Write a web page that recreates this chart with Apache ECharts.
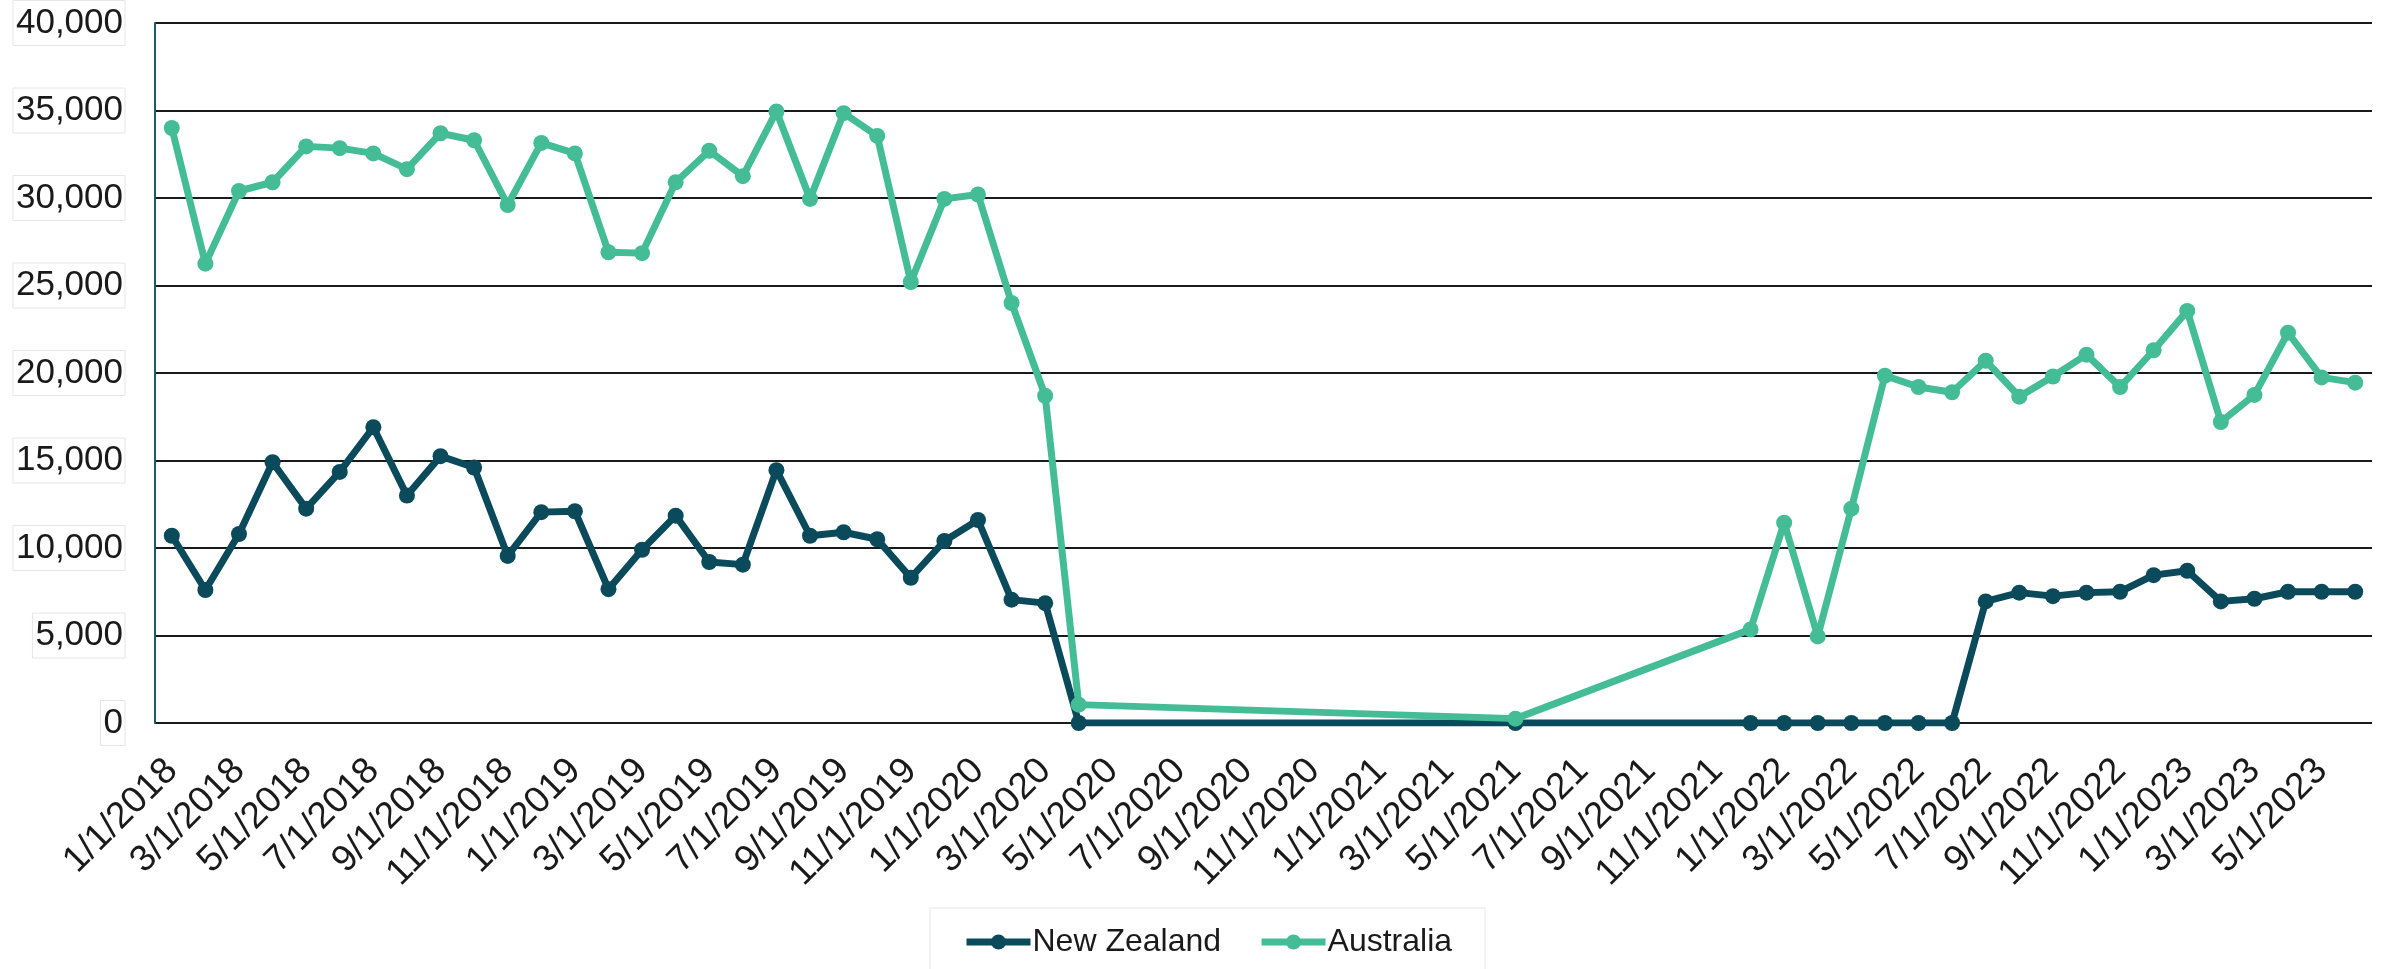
<!DOCTYPE html>
<html>
<head>
<meta charset="utf-8">
<script src="https://cdn.jsdelivr.net/npm/echarts@6/dist/echarts.min.js"></script>
<style>
  html, body { margin: 0; padding: 0; background: #ffffff; }
  #chart { width: 2382px; height: 969px; }
</style>
</head>
<body>
<div id="chart"></div>
<script>
// Monthly categories (1/1/2018 .. 6/1/2023)
const categories = [
  '1/1/2018','2/1/2018','3/1/2018','4/1/2018','5/1/2018','6/1/2018','7/1/2018','8/1/2018','9/1/2018','10/1/2018','11/1/2018','12/1/2018',
  '1/1/2019','2/1/2019','3/1/2019','4/1/2019','5/1/2019','6/1/2019','7/1/2019','8/1/2019','9/1/2019','10/1/2019','11/1/2019','12/1/2019',
  '1/1/2020','2/1/2020','3/1/2020','4/1/2020','5/1/2020','6/1/2020','7/1/2020','8/1/2020','9/1/2020','10/1/2020','11/1/2020','12/1/2020',
  '1/1/2021','2/1/2021','3/1/2021','4/1/2021','5/1/2021','6/1/2021','7/1/2021','8/1/2021','9/1/2021','10/1/2021','11/1/2021','12/1/2021',
  '1/1/2022','2/1/2022','3/1/2022','4/1/2022','5/1/2022','6/1/2022','7/1/2022','8/1/2022','9/1/2022','10/1/2022','11/1/2022','12/1/2022',
  '1/1/2023','2/1/2023','3/1/2023','4/1/2023','5/1/2023','6/1/2023'
];

// New Zealand (null = no data for that month)
const newZealand = [
  10700, 7600, 10800, 14900, 12250, 14350, 16900, 13000, 15250, 14600, 9550, 12050,
  12100, 7650, 9900, 11850, 9200, 9050, 14450, 10700, 10900, 10500, 8300, 10400,
  11600, 7050, 6850, 0, null, null, null, null, null, null, null, null,
  null, null, null, null, 0, null, null, null, null, null, null, 0,
  0, 0, 0, 0, 0, 0, 6950, 7450, 7250, 7450, 7500, 8450,
  8700, 6950, 7100, 7500, 7500, 7500
];

// Australia
const australia = [
  34000, 26250, 30400, 30900, 32950, 32850, 32550, 31650, 33700, 33300, 29600, 33150,
  32550, 26900, 26850, 30900, 32700, 31250, 34950, 29950, 34850, 33550, 25200, 29950,
  30200, 24000, 18700, 1050, null, null, null, null, null, null, null, null,
  null, null, null, null, 250, null, null, null, null, null, null, 5350,
  11450, 4950, 12250, 19850, 19200, 18900, 20700, 18650, 19800, 21050, 19200, 21300,
  23550, 17200, 18750, 22300, 19750, 19450
];

const seriesNames = ['New Zealand', 'Australia'];
const seriesColors = ['#0b4a5b', '#44bd97'];

const FONT = 'Liberation Sans';
const chart = echarts.init(document.getElementById('chart'), null, { renderer: 'canvas' });

chart.setOption({
  animation: false,
  backgroundColor: '#ffffff',
  grid: { left: 155, right: 10, top: 23, bottom: 246, containLabel: false },
  legend: {
    data: seriesNames,
    left: 930,
    top: 908,
    padding: [18, 33, 20, 33],
    borderColor: '#e6e6e6',
    borderWidth: 1,
    itemWidth: 64,
    itemHeight: 19,
    itemGap: 37,
    lineStyle: { width: 7 },
    textStyle: { fontFamily: FONT, fontSize: 32, color: '#1a1a1a', padding: [0, 0, 0, -3] }
  },
  xAxis: {
    type: 'category',
    data: categories,
    boundaryGap: true,
    axisLine: { show: false },
    axisTick: { show: false },
    splitLine: { show: false },
    axisLabel: {
      interval: 1,
      rotate: 45,
      margin: 42,
      fontFamily: FONT,
      fontSize: 37,
      color: '#1a1a1a'
    }
  },
  yAxis: {
    type: 'value',
    min: 0,
    max: 40000,
    interval: 5000,
    axisLine: { show: true, lineStyle: { color: '#1d5a6c', width: 2 } },
    axisTick: { show: false },
    splitLine: { show: true, lineStyle: { color: '#1a1a1a', width: 2 } },
    axisLabel: {
      margin: 30,
      fontFamily: FONT,
      fontSize: 35,
      color: '#1a1a1a',
      borderColor: '#e6e6e6',
      borderWidth: 1,
      padding: [5, 2, 5, 3],
      formatter: function (v) { return v.toLocaleString('en-US'); }
    }
  },
  series: [
    {
      name: seriesNames[0],
      type: 'line',
      data: newZealand,
      connectNulls: true,
      symbol: 'circle',
      symbolSize: 16,
      showSymbol: true,
      lineStyle: { color: seriesColors[0], width: 7 },
      itemStyle: { color: seriesColors[0] },
      z: 2
    },
    {
      name: seriesNames[1],
      type: 'line',
      data: australia,
      connectNulls: true,
      symbol: 'circle',
      symbolSize: 16,
      showSymbol: true,
      lineStyle: { color: seriesColors[1], width: 7 },
      itemStyle: { color: seriesColors[1] },
      z: 3
    }
  ]
});
</script>
</body>
</html>
